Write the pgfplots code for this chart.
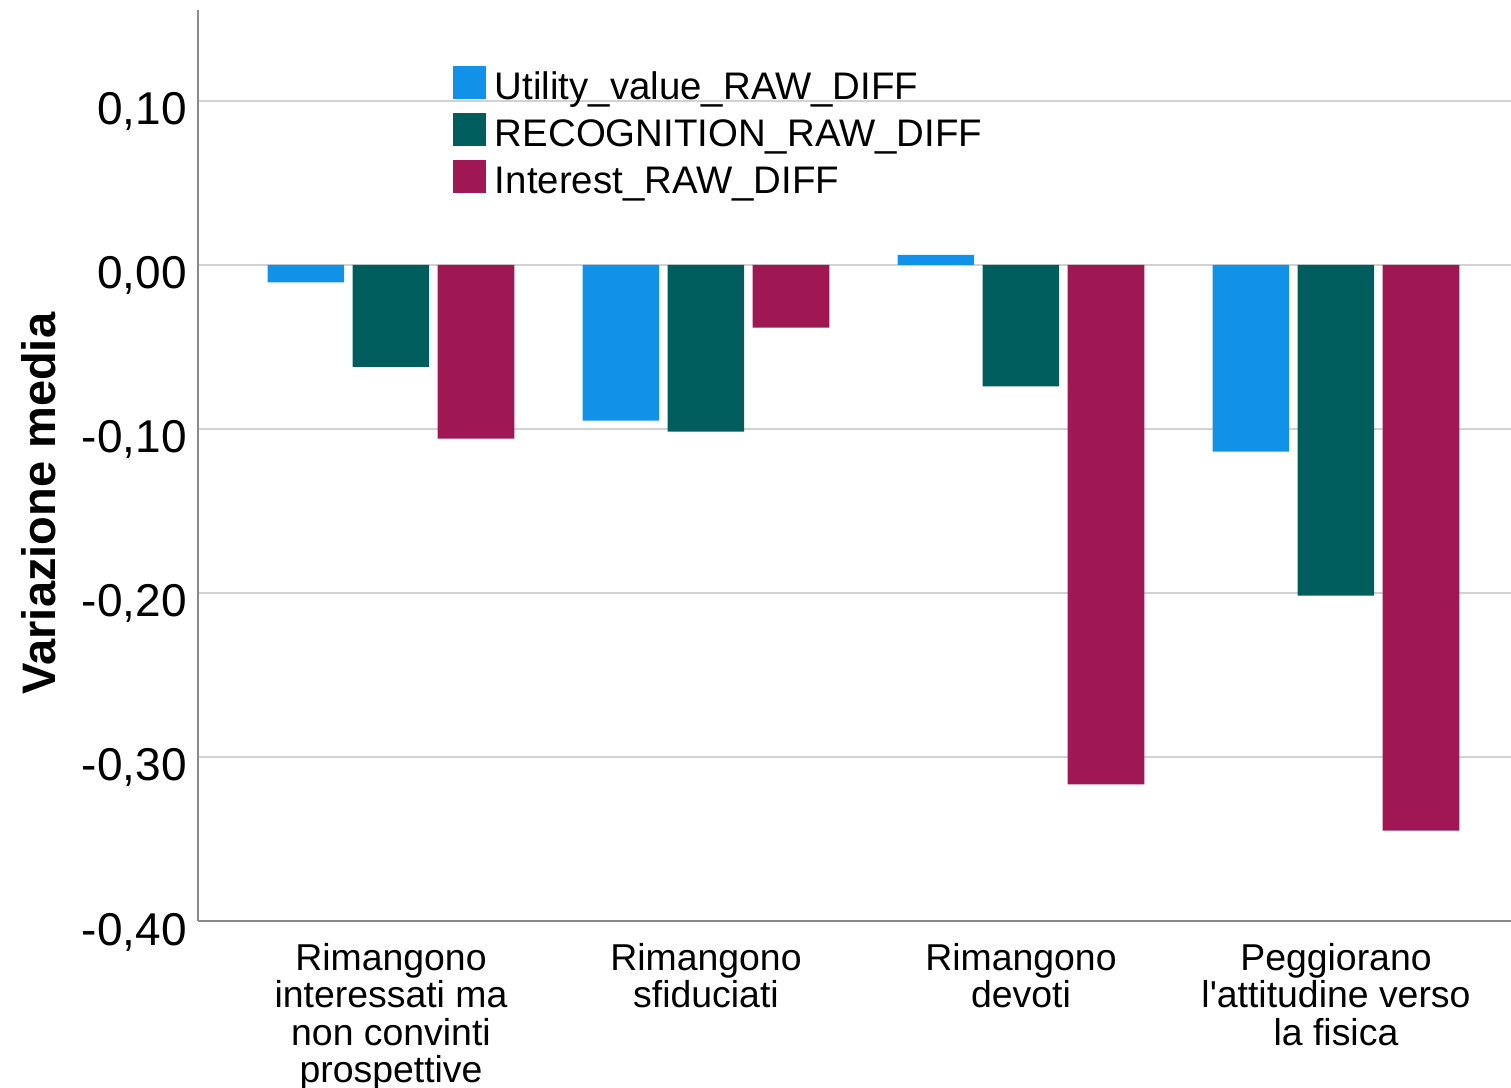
\documentclass[border=0pt]{standalone}
\usepackage{fontspec}
\setmainfont{Liberation Sans}
\usepackage{pgfplots}
\pgfplotsset{compat=1.18}
\definecolor{cblue}{HTML}{1192E8}
\definecolor{cgreen}{HTML}{005D5D}
\definecolor{cmag}{HTML}{9F1853}
\definecolor{gridc}{HTML}{D2D2D2}
\definecolor{axc}{HTML}{8A8A8A}
\begin{document}
\begin{tikzpicture}
\begin{axis}[
  at={(0,0)}, anchor=south west,
  scale only axis,
  width=656.5bp, height=455.5bp,
  xmin=-0.6127, xmax=3.5556,
  ymin=-0.4, ymax=0.1554,
  ybar=4.25bp, bar width=38.25bp,
  axis x line*=bottom, axis y line*=left,
  axis line style={axc, line width=1bp, -},
  ytick={-0.4,-0.3,-0.2,-0.1,0,0.1},
  ymajorgrids, grid style={gridc, line width=1.2bp},
  major tick length=0pt,
  xtick={0,1,2,3},
  xticklabels={{Rimangono\\interessati ma\\non convinti\\prospettive},{Rimangono\\sfiduciati},{Rimangono\\devoti},{Peggiorano\\l\textquotesingle attitudine verso\\la fisica}},
  xticklabel style={align=center, anchor=north, inner sep=0pt, yshift=-10.8bp, font=\fontsize{18.7bp}{18.75bp}\selectfont},
  yticklabel style={anchor=base east, inner sep=0pt, xshift=-5.5bp, yshift=-12bp, font=\fontsize{23bp}{27bp}\selectfont},
  /pgf/number format/.cd, fixed, fixed zerofill, precision=2, use comma, assume math mode=true, /pgfplots/.cd,
  ylabel={Variazione media},
  every axis y label/.style={at={(axis description cs:-0.10815,0.4583)}, rotate=90, anchor=base, inner sep=0pt, font=\bfseries\fontsize{23.5bp}{28bp}\selectfont},
  legend image code/.code={\fill[#1] (0bp,0bp) rectangle (16.5bp,16.5bp);},
  legend style={at={(0.1942,0.9385)}, anchor=north west, draw=none, fill=none, inner sep=0pt, outer sep=0pt, row sep=0pt,
    cells={anchor=base west},
    nodes={inner sep=0pt, text height=16.5bp, text depth=7bp, font=\fontsize{19.2bp}{22bp}\selectfont},
    /tikz/every odd column/.append style={column sep=4.5bp}},
]
\addplot[fill=cblue, draw=none] coordinates {(0,-0.0106) (1,-0.0949) (2,0.0061) (3,-0.1138)};
\addplot[fill=cgreen, draw=none] coordinates {(0,-0.0622) (1,-0.1016) (2,-0.0741) (3,-0.2017)};
\addplot[fill=cmag, draw=none] coordinates {(0,-0.1059) (1,-0.0382) (2,-0.3167) (3,-0.3449)};
\legend{Utility\_value\_RAW\_DIFF, RECOGNITION\_RAW\_DIFF, Interest\_RAW\_DIFF}
\end{axis}
\pgfresetboundingbox
\path[use as bounding box] (-99bp,-83.5bp) rectangle (656.5bp,460.5bp);
\end{tikzpicture}
\end{document}
